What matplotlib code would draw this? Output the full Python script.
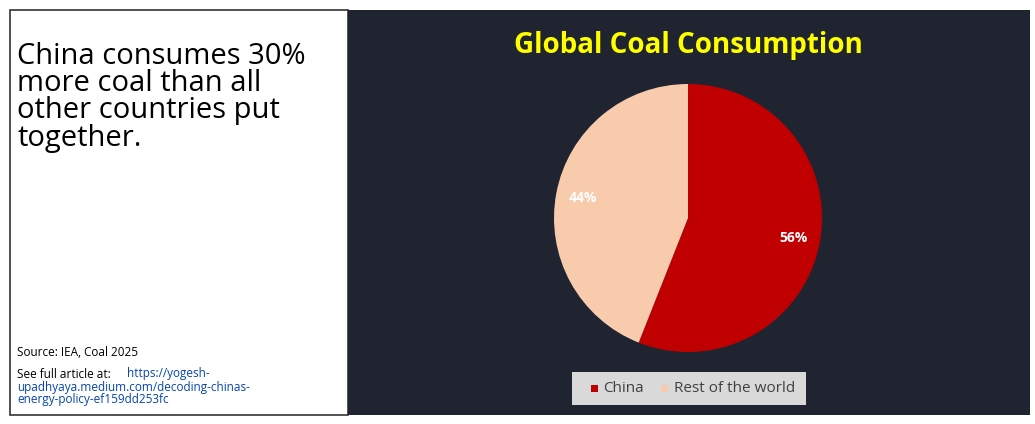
import matplotlib
matplotlib.use("Agg")
import matplotlib.pyplot as plt
from matplotlib.patches import Rectangle

labels = ["China", "Rest of the world"]
values = [56, 44]
colors = ["#c00000", "#f8cbad"]

W, H = 1035, 424
fig = plt.figure(figsize=(W/100, H/100), dpi=100)
fig.patch.set_facecolor("white")
bg = fig.add_axes([0, 0, 1, 1]); bg.set_xlim(0, W); bg.set_ylim(H, 0); bg.axis("off")
bg.add_patch(Rectangle((10, 10), 338, 405, facecolor="white", edgecolor="#333333", lw=1.2))
bg.add_patch(Rectangle((348, 10), 682, 405, facecolor="#1f2430", edgecolor="none"))
bg.text(17, 42, "China consumes 30%\nmore coal than all\nother countries put\ntogether.", fontsize=21, va="top", ha="left",
        family="Open Sans", linespacing=0.92, color="black")
bg.text(17, 352, "Source: IEA, Coal 2025", fontsize=8.5, va="center", family="Open Sans")
bg.text(17, 374, "See full article at:", fontsize=8.5, va="center", family="Open Sans")
bg.text(127, 374, "https://yogesh-", fontsize=8.5, va="center", family="Open Sans", color="#0645ad")
bg.text(17, 381, "upadhyaya.medium.com/decoding-chinas-\nenergy-policy-ef159dd253fc", fontsize=8.5, va="top",
        family="Open Sans", color="#0645ad", linespacing=0.85)
bg.text(688, 45, "Global Coal Consumption", fontsize=20, fontweight="bold", color="#ffff00", ha="center", va="center",
        family="Open Sans")
# legend
bg.add_patch(Rectangle((572, 372), 234, 33, facecolor="#d9d9d9", edgecolor="none"))
bg.add_patch(Rectangle((591, 385), 7, 7, facecolor=colors[0]))
bg.text(603, 388, labels[0], fontsize=11, va="center", color="#404040", family="Open Sans")
bg.add_patch(Rectangle((661, 385), 7, 7, facecolor=colors[1]))
bg.text(674, 388, labels[1], fontsize=11, va="center", color="#404040", family="Open Sans")

r = 134
ax = fig.add_axes([(688 - r)/W, 1 - (218 + r)/H, 2*r/W, 2*r/H])
wedges, _, autot = ax.pie(values, colors=colors, startangle=90, counterclock=False,
                          autopct=lambda p: f"{p:.0f}%", pctdistance=0.8,
                          textprops=dict(color="white", fontsize=10, fontweight="bold", family="Open Sans"))
ax.set_xlim(-1, 1); ax.set_ylim(-1, 1)
ax.set_aspect("equal")
fig.savefig("out.png", dpi=100, facecolor=fig.get_facecolor())
